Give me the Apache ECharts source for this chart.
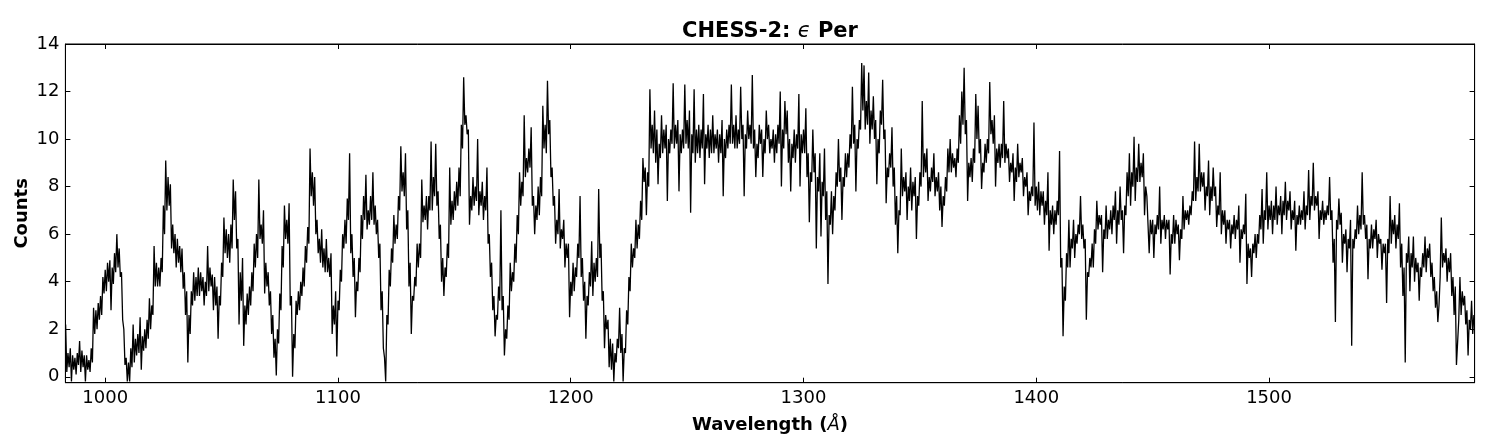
<!DOCTYPE html>
<html><head><meta charset="utf-8">
<script src="https://cdn.jsdelivr.net/npm/echarts@6/dist/echarts.min.js"></script>
<style>html,body{margin:0;padding:0;background:#fff}#c{width:1509px;height:447px}</style>
</head><body><div id="c"></div>
<script>
// Spectrum, segment by segment.
// "hi" values sit on whole Angstroms (start, start+1, ...),
// "lo" values on the half Angstroms between them (start+0.5, ...).
const hi983 = [
  2.2, 1.0, 1.2, 0.9, 0.8, 1.0, 1.5, 1.1, 0.9, 0.9,
  0.7, 1.2, 2.9, 2.8, 3.1, 3.4, 4.2, 4.5, 4.8, 4.9,
  4.6, 5.2, 6.0, 5.4, 4.4, 2.0, 0.8, 0.6, 1.2, 2.2,
  1.6, 1.8, 2.5, 1.7, 2.0, 2.4, 3.3, 3.0, 5.5, 4.8,
  4.6, 5.0, 7.2, 9.1, 8.4, 8.1, 6.4, 6.0, 5.8, 5.5,
  5.4, 4.4, 3.6, 2.6, 3.6, 4.4, 4.2, 4.6, 4.4, 4.2,
  4.0, 5.5, 4.6, 4.3, 4.2, 3.8, 3.4, 4.8, 6.7, 6.2,
  6.0, 6.4, 8.3, 7.8, 5.8, 4.4, 5.0, 3.0, 3.5, 3.8,
  4.4, 5.6, 6.0, 8.3, 6.4, 7.0, 4.8, 4.4, 3.6, 2.6,
  1.6, 2.0, 3.5, 5.5, 7.2, 6.6, 7.3, 3.4, 1.8, 3.2,
  3.6, 4.0, 4.6, 5.5, 6.3, 9.6, 8.6, 8.4, 6.6, 5.8,
  6.2, 5.4, 5.8, 5.0, 5.2, 3.0, 3.6
];
const lo983 = [
  0.2, 0.4, -0.2, 0.3, 0.1, 0.5, 0.2, 0.4, -0.2, 0.3,
  0.2, 0.6, 1.8, 2.0, 2.4, 2.6, 3.5, 3.6, 4.0, 2.8,
  3.9, 4.4, 4.6, 4.2, 2.4, 0.5, -0.2, -0.2, 0.4, 0.6,
  0.9, 1.0, 0.3, 1.1, 1.2, 1.6, 2.0, 2.6, 3.8, 3.8,
  3.8, 4.4, 6.0, 7.0, 7.2, 5.4, 5.2, 4.6, 4.8, 4.4,
  3.7, 2.6, 0.6, 1.8, 3.0, 3.2, 3.4, 3.4, 3.6, 3.0,
  3.4, 3.6, 3.8, 2.8, 3.0, 1.6, 3.0, 4.2, 5.2, 5.0,
  4.8, 5.4, 6.6, 5.4, 2.2, 3.2, 1.3, 2.2, 2.6, 3.0,
  3.6, 4.6, 5.0, 5.8, 5.6, 3.5, 3.8, 3.0, 1.8, 0.8,
  0.05, 1.4, 2.8, 4.6, 5.8, 5.6, 3.0, 0.0, 1.2, 2.6,
  2.8, 3.4, 3.8, 4.8, 5.6, 7.6, 7.2, 6.0, 5.2, 4.8,
  4.6, 4.4, 4.4, 4.2, 1.8, 2.2, 0.85
];
const hi1100 = [
  3.2, 4.5, 6.0, 6.6, 7.5, 9.4, 6.0, 5.0, 4.0, 5.0,
  6.8, 7.6, 8.5, 7.0, 7.6, 8.6, 7.2, 6.6, 5.6, 3.6,
  0.8, 2.6, 4.5, 5.4, 6.8, 6.4, 7.6, 9.7, 8.6, 9.4,
  7.0, 4.8, 3.4, 4.2, 5.6, 5.6, 8.3, 7.2, 7.6, 7.6,
  9.9, 8.4, 9.8, 7.8, 6.4, 5.0, 4.6, 5.6, 8.8, 7.4,
  7.8, 8.2, 8.8, 10.6, 12.6, 11.0, 10.4, 7.6, 8.4, 8.0,
  10.0, 7.8, 8.2, 7.6, 8.8, 6.0, 4.8, 3.4, 2.6, 3.8,
  7.0, 3.4, 2.0, 3.0, 4.8, 4.4, 5.6, 6.8, 8.6, 8.2,
  11.0, 9.2, 9.6, 10.5, 7.6, 7.2, 8.0, 8.4, 11.4, 10.6,
  12.45, 10.8, 8.8, 7.6, 6.6, 7.9, 6.2, 6.6, 5.6, 5.6
];
const lo1100 = [
  2.8, 4.0, 5.4, 5.6, 6.6, 5.2, 4.2, 2.5, 3.6, 4.4,
  5.8, 6.6, 6.2, 6.4, 6.6, 6.4, 6.0, 5.0, 2.8, 1.2,
  -0.2, 2.2, 3.8, 4.8, 5.6, 5.8, 7.0, 7.8, 7.6, 6.2,
  3.8, 1.8, 3.2, 3.8, 4.6, 5.0, 6.5, 6.6, 6.2, 7.0,
  7.0, 7.6, 7.2, 5.8, 4.0, 3.4, 4.2, 5.0, 6.4, 6.6,
  7.0, 7.2, 7.6, 9.6, 10.6, 10.2, 6.4, 7.0, 7.2, 7.4,
  6.8, 7.2, 6.6, 7.0, 5.6, 4.2, 2.8, 1.7, 2.4, 3.2,
  2.8, 0.9, 1.6, 2.4, 3.6, 4.0, 4.8, 6.0, 7.2, 7.6,
  8.4, 8.6, 8.8, 7.2, 6.0, 6.6, 6.8, 7.6, 9.6, 9.4,
  10.2, 8.4, 7.2, 5.6, 6.0, 5.4, 5.8, 4.6, 5.0, 2.5
];
const hi1200 = [
  4.0, 4.8, 4.6, 5.6, 7.6, 5.0, 4.0, 3.4, 4.4, 5.7,
  4.8, 5.0, 7.9, 5.6, 3.6, 2.6, 2.4, 1.6, 1.4, 1.0,
  1.6, 2.9, 1.8, 1.2, 2.8, 4.2, 5.6, 5.4, 6.6, 6.4,
  7.4, 9.2, 8.8, 8.6, 12.1, 10.6, 11.2, 10.4, 9.8, 11.0,
  10.4, 10.6, 10.0, 10.4, 12.35, 10.6, 10.8, 10.2, 10.4, 12.3,
  10.8, 11.2, 10.2, 12.1, 10.4, 10.6, 10.4, 11.9, 10.2, 10.6,
  10.4, 11.0, 10.2, 10.4, 10.2, 10.8, 10.0, 10.4, 10.6, 12.3,
  10.6, 11.0, 10.4, 12.2, 10.6, 10.2, 11.2, 10.6, 12.7, 10.4,
  9.8, 10.6, 10.4, 10.0, 11.2, 10.6, 10.0, 10.4, 10.2, 10.6,
  12.0, 10.4, 11.6, 11.2, 10.0, 9.8, 10.4, 10.2, 11.9, 10.2
];
const lo1200 = [
  3.4, 3.6, 4.2, 5.0, 4.2, 3.2, 1.6, 3.0, 3.8, 3.4,
  4.0, 4.2, 5.0, 3.2, 1.2, 2.0, 0.4, 0.3, -0.2, 0.6,
  1.2, 1.0, -0.2, 1.0, 2.2, 3.6, 4.6, 5.0, 5.4, 5.8,
  6.6, 8.2, 6.8, 8.0, 9.6, 9.4, 9.0, 8.1, 9.2, 9.4,
  9.6, 7.4, 9.4, 9.8, 9.6, 9.8, 7.8, 9.4, 9.6, 9.8,
  9.6, 6.9, 9.4, 9.0, 9.4, 9.2, 9.6, 8.1, 9.6, 9.2,
  9.4, 9.4, 9.6, 9.0, 9.4, 7.6, 9.2, 9.6, 9.8, 9.8,
  9.6, 9.6, 9.8, 10.0, 7.6, 9.6, 10.0, 9.8, 9.6, 8.4,
  9.2, 9.8, 8.4, 9.4, 10.0, 9.4, 9.6, 9.0, 9.4, 9.8,
  8.0, 9.6, 10.2, 9.0, 7.8, 9.2, 9.0, 9.6, 8.0, 9.4
];
const hi1300 = [
  10.4, 11.3, 9.4, 8.6, 10.4, 9.4, 8.4, 9.4, 8.2, 9.6,
  7.8, 6.8, 7.8, 7.6, 8.6, 10.0, 8.8, 8.4, 9.4, 9.4,
  10.2, 12.2, 10.6, 10.0, 10.8, 13.2, 13.1, 11.6, 12.8, 11.2,
  11.8, 10.8, 10.0, 11.2, 12.5, 10.4, 8.8, 9.4, 10.5, 8.8,
  7.6, 7.0, 9.6, 8.4, 8.6, 8.0, 8.8, 8.2, 8.4, 7.6,
  8.6, 11.6, 9.4, 9.6, 8.4, 8.8, 9.4, 8.4, 8.6, 8.0,
  7.6, 8.4, 9.6, 10.0, 9.4, 9.2, 9.6, 11.0, 12.0, 13.0,
  10.8, 9.0, 9.2, 9.6, 11.9, 11.4, 10.0, 9.0, 9.8, 10.0,
  12.4, 10.8, 11.0, 9.6, 9.8, 9.8, 11.6, 9.8, 9.6, 9.0,
  9.4, 8.8, 9.8, 9.0, 9.2, 8.4, 8.6, 7.8, 8.0, 10.7
];
const lo1300 = [
  9.4, 8.4, 6.5, 8.2, 8.6, 5.4, 7.8, 5.9, 7.6, 6.6,
  3.9, 6.4, 6.0, 7.0, 8.0, 8.2, 6.6, 8.0, 8.4, 8.8,
  9.6, 9.8, 7.8, 9.6, 10.4, 11.2, 10.4, 10.6, 9.8, 10.4,
  10.0, 8.1, 9.4, 10.6, 10.0, 7.3, 8.4, 8.8, 8.0, 6.4,
  5.2, 6.8, 7.6, 7.8, 6.6, 7.4, 7.0, 7.6, 5.8, 7.2,
  8.0, 8.4, 8.6, 7.4, 7.8, 8.2, 7.6, 7.8, 7.0, 6.3,
  7.2, 7.8, 8.6, 8.6, 8.8, 8.4, 9.0, 9.8, 10.6, 10.2,
  7.4, 8.4, 8.2, 9.0, 10.0, 9.4, 7.9, 8.6, 9.0, 9.4,
  10.2, 9.8, 8.0, 9.0, 8.8, 9.2, 9.0, 9.2, 8.2, 8.6,
  7.4, 8.2, 8.4, 8.6, 7.6, 8.0, 6.8, 7.4, 7.6, 7.2
];
const hi1400 = [
  8.0, 8.2, 7.8, 7.8, 7.4, 8.6, 7.0, 7.2, 7.0, 7.4,
  9.5, 5.0, 3.8, 5.2, 6.6, 5.8, 6.6, 6.0, 6.4, 7.6,
  6.4, 5.8, 4.4, 5.0, 5.6, 6.2, 7.4, 6.8, 6.8, 6.2,
  7.2, 6.6, 7.0, 7.2, 7.8, 7.0, 8.0, 7.0, 7.2, 8.6,
  9.4, 8.6, 10.1, 8.8, 9.8, 9.0, 9.4, 8.0, 7.6, 6.6,
  6.6, 6.4, 6.8, 8.0, 6.6, 6.8, 6.6, 6.6, 6.0, 6.8,
  6.6, 6.4, 6.2, 7.6, 7.0, 7.0, 7.2, 7.8, 9.9, 8.4,
  9.8, 8.6, 8.6, 8.0, 9.1, 8.0, 8.8, 8.0, 7.2, 8.6,
  7.0, 7.0, 6.6, 6.6, 6.4, 6.8, 6.6, 7.2, 6.2, 6.4,
  7.7, 5.6, 5.4, 5.6, 6.0, 6.0, 6.8, 7.9, 7.0, 8.6
];
const lo1400 = [
  7.0, 6.8, 7.2, 6.4, 6.8, 5.3, 6.4, 6.0, 6.4, 6.8,
  4.6, 1.7, 3.2, 4.6, 4.6, 5.4, 5.0, 5.6, 6.0, 5.8,
  5.4, 2.4, 4.2, 4.6, 4.6, 5.6, 6.2, 6.4, 4.4, 5.8,
  5.8, 6.2, 6.0, 6.6, 5.6, 6.4, 6.6, 5.2, 6.8, 7.6,
  7.2, 8.0, 7.4, 8.2, 8.2, 8.4, 6.8, 7.6, 5.2, 6.0,
  5.0, 6.0, 6.2, 5.6, 6.2, 5.8, 6.2, 4.3, 5.6, 5.6,
  6.0, 4.9, 5.8, 6.2, 6.6, 6.4, 6.8, 7.4, 7.4, 7.8,
  7.8, 8.0, 7.0, 7.6, 6.8, 7.4, 7.6, 6.3, 6.8, 6.0,
  6.4, 5.6, 6.2, 5.4, 6.0, 5.8, 6.2, 4.8, 5.8, 6.0,
  3.9, 5.0, 4.2, 5.2, 5.0, 5.6, 6.2, 5.6, 6.6, 6.2
];
const hi1500 = [
  7.2, 7.4, 7.2, 8.0, 7.2, 7.6, 7.4, 8.2, 7.4, 7.8,
  7.0, 7.4, 6.8, 7.2, 7.0, 7.8, 7.2, 8.7, 7.6, 9.0,
  7.6, 7.8, 7.0, 7.4, 7.0, 7.2, 8.4, 7.0, 5.8, 6.6,
  7.5, 6.9, 6.0, 6.2, 5.8, 6.6, 5.8, 6.2, 7.2, 6.8,
  8.6, 6.8, 6.4, 5.8, 6.4, 6.2, 6.6, 6.0, 5.8, 5.6,
  5.6, 5.8, 7.6, 6.6, 6.8, 6.4, 7.3, 5.6, 4.6, 5.2,
  5.9, 5.2, 5.9, 5.0, 4.8, 4.6, 5.2, 5.9, 5.4, 5.6,
  4.8, 4.2, 3.6, 3.0, 6.7, 5.2, 5.4, 5.0, 5.2, 4.2,
  3.8, 0.5, 4.2, 3.6, 3.4, 2.8, 2.4, 3.2, 2.6
];
const lo1500 = [
  6.6, 6.0, 6.6, 6.4, 6.8, 6.0, 6.8, 6.6, 7.0, 6.2,
  6.6, 5.3, 6.4, 6.4, 6.6, 6.2, 6.8, 6.6, 7.2, 7.0,
  7.2, 5.8, 6.6, 6.4, 6.6, 6.8, 6.6, 4.8, 2.3, 6.2,
  6.4, 4.8, 5.6, 4.4, 5.4, 1.3, 5.4, 5.8, 6.0, 6.2,
  6.4, 5.8, 4.1, 5.4, 5.4, 5.8, 5.0, 5.6, 4.5, 5.2,
  3.1, 5.2, 5.6, 6.0, 5.4, 5.8, 4.6, 3.4, 0.6, 4.8,
  3.6, 4.6, 4.0, 4.4, 3.2, 4.2, 4.6, 4.4, 5.0, 4.2,
  3.6, 2.9, 2.3, 4.2, 4.6, 4.8, 4.0, 4.4, 3.4, 2.6,
  0.5, 2.4, 2.6, 3.0, 2.2, 0.9, 2.0, 1.8
];
const xTicks = [1000, 1100, 1200, 1300, 1400, 1500];
const yTicks = [0, 2, 4, 6, 8, 10, 12, 14];
const xRange = [982.9, 1588.3];
const yRange = [-0.25, 14];

const segments = [
  { start: 983, hi: hi983, lo: lo983 },
  { start: 1100, hi: hi1100, lo: lo1100 },
  { start: 1200, hi: hi1200, lo: lo1200 },
  { start: 1300, hi: hi1300, lo: lo1300 },
  { start: 1400, hi: hi1400, lo: lo1400 },
  { start: 1500, hi: hi1500, lo: lo1500 }
];
const seriesData = [];
segments.forEach(seg => {
  seg.hi.forEach((v, i) => {
    seriesData.push([seg.start + i, v]);
    if (i < seg.lo.length) seriesData.push([seg.start + i + 0.5, seg.lo[i]]);
  });
});

const FONT = 'DejaVu Sans';
const tickStyle = { inside: true, length: 5, lineStyle: { color: '#000', width: 1 } };
const chart = echarts.init(document.getElementById('c'), null, { renderer: 'canvas' });
chart.setOption({
  animation: false,
  backgroundColor: '#fff',
  title: {
    text: '{b|CHESS-2: }{e|ϵ}{b| Per}',
    left: 770, top: 21, padding: 0, textAlign: 'center',
    textStyle: {
      rich: {
        b: { fontFamily: FONT, fontWeight: 'bold', fontSize: 21, color: '#000' },
        e: { fontFamily: FONT, fontStyle: 'italic', fontWeight: 'normal', fontSize: 21, color: '#000' }
      }
    }
  },
  grid: {
    left: 65.4, right: 34.4, top: 44, bottom: 64.3,
    containLabel: false, outerBoundsMode: 'none',
    show: true, borderColor: '#000', borderWidth: 1, backgroundColor: 'transparent'
  },
  xAxis: [
    {
      type: 'value', min: xRange[0], max: xRange[1], position: 'bottom',
      axisLine: { show: true, onZero: false, lineStyle: { color: '#000', width: 1 } },
      axisTick: Object.assign({ customValues: xTicks }, tickStyle),
      axisLabel: { customValues: xTicks, margin: 7, fontFamily: FONT, fontSize: 18, color: '#000', formatter: v => String(v) },
      splitLine: { show: false },
      name: '{b|Wavelength (}{i|Å}{b|)}',
      nameLocation: 'middle', nameGap: 34, nameMoveOverlap: false,
      nameTextStyle: {
        rich: {
          b: { fontFamily: FONT, fontWeight: 'bold', fontSize: 18, color: '#000' },
          i: { fontFamily: FONT, fontStyle: 'italic', fontWeight: 'normal', fontSize: 18, color: '#000' }
        }
      }
    },
    {
      type: 'value', min: xRange[0], max: xRange[1], position: 'top',
      axisLine: { show: true, onZero: false, lineStyle: { color: '#000', width: 1 } },
      axisTick: Object.assign({ customValues: xTicks }, tickStyle),
      axisLabel: { show: false }, splitLine: { show: false }
    }
  ],
  yAxis: [
    {
      type: 'value', min: yRange[0], max: yRange[1], position: 'left',
      axisLine: { show: true, onZero: false, lineStyle: { color: '#000', width: 1 } },
      axisTick: Object.assign({ customValues: yTicks }, tickStyle),
      axisLabel: { customValues: yTicks, margin: 6, fontFamily: FONT, fontSize: 18, color: '#000', formatter: v => String(v) },
      splitLine: { show: false },
      name: 'Counts', nameLocation: 'middle', nameRotate: 90, nameGap: 34, nameMoveOverlap: false,
      nameTextStyle: { fontFamily: FONT, fontWeight: 'bold', fontSize: 18, color: '#000' }
    },
    {
      type: 'value', min: yRange[0], max: yRange[1], position: 'right',
      axisLine: { show: true, onZero: false, lineStyle: { color: '#000', width: 1 } },
      axisTick: Object.assign({ customValues: yTicks }, tickStyle),
      axisLabel: { show: false }, splitLine: { show: false }
    }
  ],
  series: [{
    type: 'line', xAxisIndex: 0, yAxisIndex: 0,
    data: seriesData, symbol: 'none', showSymbol: false, clip: true,
    lineStyle: { color: '#000', width: 1.3 }
  }]
});
</script>
</body></html>
